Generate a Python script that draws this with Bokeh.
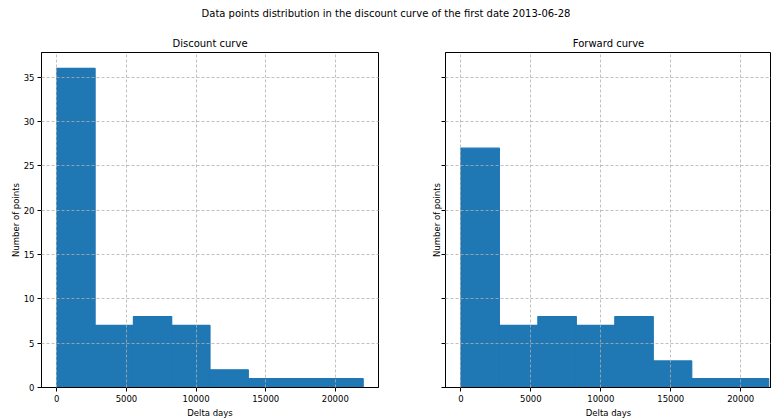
from bokeh.plotting import figure
from bokeh.layouts import column, row
from bokeh.models import FixedTicker, Range1d
from bokeh.embed import file_html
from bokeh.resources import INLINE
from bokeh.core.properties import value

main_title = "Data points distribution in the discount curve of the first date 2013-06-28"
bin_edges = [0, 2750, 5500, 8250, 11000, 13750, 16500, 19250, 22000]
discount_counts = [36, 7, 8, 7, 2, 1, 1, 1]
forward_counts = [27, 7, 8, 7, 8, 3, 1, 1]
x_ticks = [0, 5000, 10000, 15000, 20000]
y_ticks = [0, 5, 10, 15, 20, 25, 30, 35]

FONT = "DejaVu Sans"
BAR = "#1f77b4"

# top title strip
t = figure(width=771, height=25, x_range=Range1d(0, 1), y_range=Range1d(0, 1),
           toolbar_location=None, output_backend="svg", min_border=0,
           x_axis_location=None, y_axis_location=None, outline_line_color=None)
t.grid.visible = False
t.text(x=[0.5], y=[0.48], text=[main_title], text_align="center",
       text_baseline="middle", text_font=value(FONT), text_font_size="10px",
       text_color="#000000")


def make_hist(title, counts, width, border_left, border_right, x_end, show_ylabels):
    p = figure(width=width, height=395, toolbar_location=None, output_backend="svg",
               x_range=Range1d(-1100, x_end), y_range=Range1d(0, 37.8),
               min_border_left=border_left, min_border_right=border_right,
               min_border_top=27, min_border_bottom=31, title=title)
    p.title.align = "center"
    p.title.text_font = FONT
    p.title.text_font_size = "10px"
    p.title.text_font_style = "normal"
    p.title.text_color = "#000000"
    p.title.standoff = 8
    p.quad(left=bin_edges[:-1], right=bin_edges[1:], bottom=0, top=counts,
           fill_color=BAR, line_color=BAR, line_width=1.2)
    p.outline_line_color = "#000000"
    p.outline_line_width = 1
    p.outline_line_alpha = 1
    p.xaxis.ticker = FixedTicker(ticks=x_ticks)
    p.yaxis.ticker = FixedTicker(ticks=y_ticks)
    for ax in (p.xaxis, p.yaxis):
        ax.minor_tick_line_color = None
        ax.major_tick_out = 4
        ax.major_tick_in = 0
        ax.major_tick_line_color = "#000000"
        ax.axis_line_color = "#000000"
        ax.major_label_text_font = FONT
        ax.major_label_text_font_size = "8.5px"
        ax.major_label_text_color = "#000000"
        ax.axis_label_text_font = FONT
        ax.axis_label_text_font_size = "8.5px"
        ax.axis_label_text_font_style = "normal"
        ax.axis_label_text_color = "#000000"
        ax.major_label_standoff = 3
        ax.axis_label_standoff = 3
    p.yaxis.axis_label_standoff = 0
    p.xaxis.axis_label = "Delta days"
    p.yaxis.axis_label = "Number of points"
    if not show_ylabels:
        p.yaxis.major_label_overrides = {v: "" for v in y_ticks}
        p.yaxis.major_label_standoff = 0
        p.yaxis.axis_label_standoff = 0
    p.grid.grid_line_color = "#b0b0b0"
    p.grid.grid_line_dash = "3 2"
    p.grid.grid_line_width = 0.8
    p.grid.level = "overlay"
    return p


p1 = make_hist("Discount curve", discount_counts, 400, 41, 22, 23100, True)
p2 = make_hist("Forward curve", forward_counts, 371, 45, 0, 22200, False)

layout = column(t, row(p1, p2))
open("out.html", "w").write(file_html(layout, INLINE))
